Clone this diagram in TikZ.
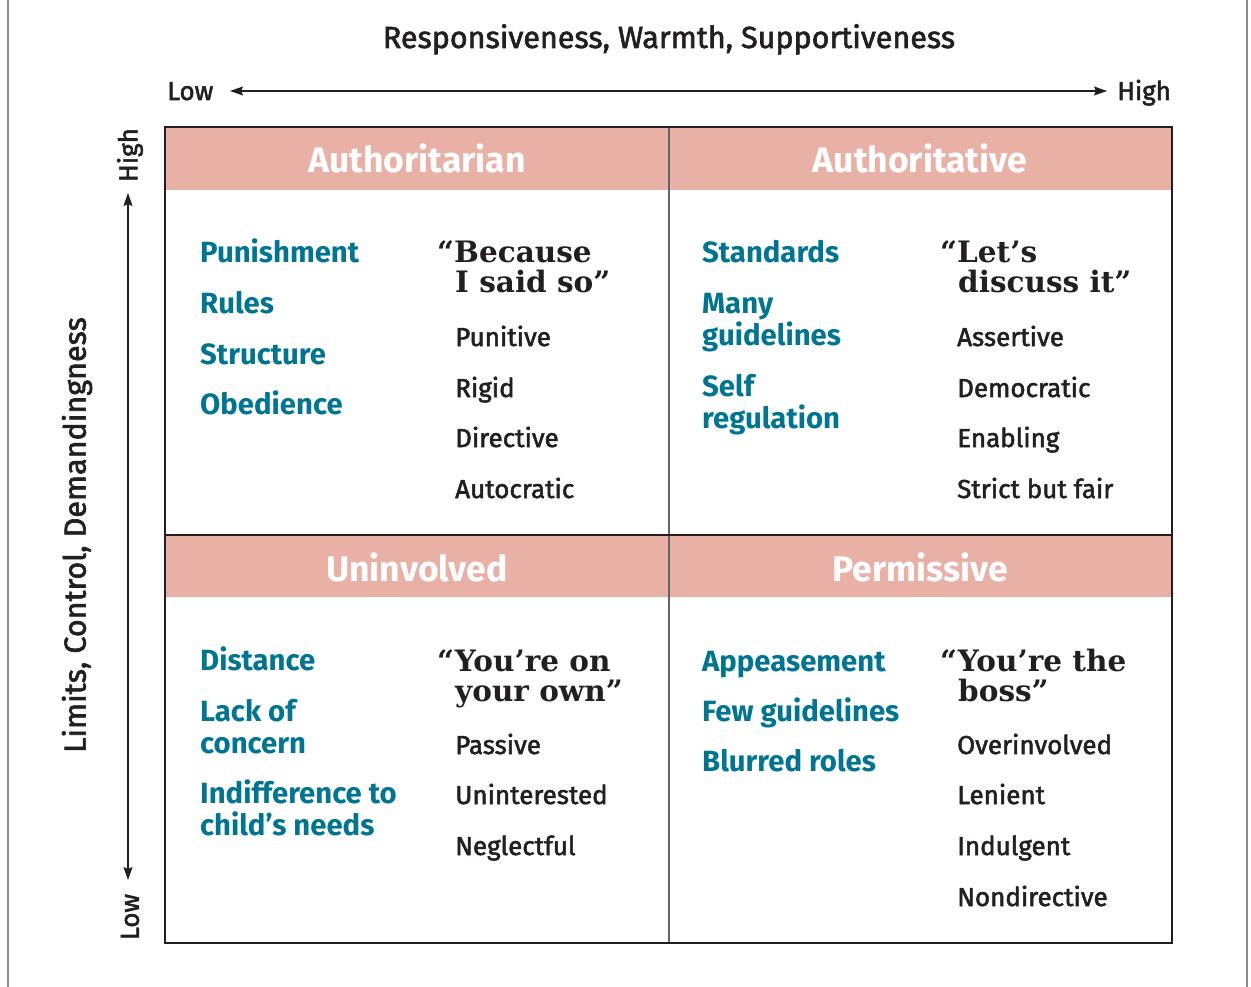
\documentclass[tikz,border=0pt]{standalone}
\usepackage{fontspec}
\setmainfont{Fira Sans}
\newfontfamily\semifont{Fira Sans}[FakeBold=2]
\newfontfamily\qfont{DejaVu Serif}
\usetikzlibrary{arrows.meta}
\definecolor{ateal}{RGB}{0,117,146}
\definecolor{apink}{RGB}{233,177,166}
\definecolor{ink}{RGB}{35,31,32}
\definecolor{edge}{RGB}{140,140,140}
\begin{document}
\begin{tikzpicture}[x=1pt,y=-1pt,
  cat/.style={anchor=base west,inner sep=0,text=ateal,font=\fontsize{29.3}{32}\selectfont\bfseries},
  trait/.style={anchor=base west,inner sep=0,text=ink,font=\fontsize{26}{32}\selectfont\semifont},
  quote/.style={anchor=base west,inner sep=0,text=ink,font=\fontsize{29.5}{32}\selectfont\qfont\bfseries},
  head/.style={anchor=base,inner sep=0,text=white,font=\fontsize{35.5}{40}\selectfont\bfseries},
  axislab/.style={inner sep=0,text=ink,font=\fontsize{26}{30}\selectfont\semifont},
  axisarrow/.style={ink,line width=1.3pt,{Stealth[length=13pt,width=9pt,inset=2pt]}-{Stealth[length=13pt,width=9pt,inset=2pt]}},
]
\useasboundingbox (0,0) rectangle (1251,987);
\fill[white] (0,0) rectangle (1251,987);
\draw[edge,line width=2pt] (8,0) -- (8,987);
\draw[edge,line width=2pt] (1247,0) -- (1247,987);

% title and axes
\node[anchor=base,inner sep=0,text=ink,font=\fontsize{30.5}{34}\selectfont\semifont] (title) at (669,48) {Responsiveness, Warmth, Supportiveness};
\node[axislab,anchor=base west] (lowx) at (167,100) {Low};
\node[axislab,anchor=base west] (highx) at (1117,100) {High};
\coordinate (hL) at (230,91);
\coordinate (hR) at (1107,91);
\draw[axisarrow] (hL) -- (hR);

\node[axislab,rotate=90] (highy) at (130,155) {High};
\node[axislab,rotate=90] (lowy) at (130,917) {Low};
\coordinate (vT) at (128,193);
\coordinate (vB) at (128,880);
\draw[axisarrow] (vT) -- (vB);
\node[inner sep=0,text=ink,font=\fontsize{30.5}{34}\selectfont\semifont,rotate=90] (ylab) at (77,535) {Limits, Control, Demandingness};

% grid
\fill[apink] (166,128) rectangle (1171,190);
\fill[apink] (166,536) rectangle (1171,597);
\draw[ink!70,line width=1.4pt] (669,127) -- (669,943);
\draw[ink,line width=2pt] (165,534.5) -- (1172,534.5);
\draw[ink,line width=2.5pt] (165,127) rectangle (1172,943);

% headers
\node[head] (h1) at (417,173) {Authoritarian};
\node[head] (h2) at (920,173) {Authoritative};
\node[head] (h3) at (417,581) {Uninvolved};
\node[head] (h4) at (920,581) {Permissive};

% Authoritarian
\node[cat] (a1) at (200,262) {Punishment};
\node[cat] (a2) at (200,313) {Rules};
\node[cat] (a3) at (200,364) {Structure};
\node[cat] (a4) at (200,414) {Obedience};
\node[quote] (aq1) at (437,263) {“Because};
\node[quote] (aq2) at (455,293) {I said so”};
\node[trait] (at1) at (455,346) {Punitive};
\node[trait] (at2) at (455,397) {Rigid};
\node[trait] (at3) at (455,447) {Directive};
\node[trait] (at4) at (455,498) {Autocratic};

% Authoritative
\node[cat] (b1) at (702,262) {Standards};
\node[cat] (b2) at (702,313) {Many};
\node[cat] (b3) at (702,345) {guidelines};
\node[cat] (b4) at (702,396) {Self};
\node[cat] (b5) at (702,428) {regulation};
\node[quote] (bq1) at (940,263) {“Let’s};
\node[quote] (bq2) at (958,293) {discuss it”};
\node[trait] (bt1) at (957,346) {Assertive};
\node[trait] (bt2) at (957,397) {Democratic};
\node[trait] (bt3) at (957,447) {Enabling};
\node[trait] (bt4) at (957,498) {Strict but fair};

% Uninvolved
\node[cat] (c1) at (200,670) {Distance};
\node[cat] (c2) at (200,721) {Lack of};
\node[cat] (c3) at (200,753) {concern};
\node[cat] (c4) at (200,803) {Indifference to};
\node[cat] (c5) at (200,835) {child’s needs};
\node[quote] (cq1) at (437,671) {“You’re on};
\node[quote] (cq2) at (455,701) {your own”};
\node[trait] (ct1) at (455,754) {Passive};
\node[trait] (ct2) at (455,804) {Uninterested};
\node[trait] (ct3) at (455,855) {Neglectful};

% Permissive
\node[cat] (d1) at (702,671) {Appeasement};
\node[cat] (d2) at (702,721) {Few guidelines};
\node[cat] (d3) at (702,771) {Blurred roles};
\node[quote] (dq1) at (940,671) {“You’re the};
\node[quote] (dq2) at (958,701) {boss”};
\node[trait] (dt1) at (957,754) {Overinvolved};
\node[trait] (dt2) at (957,804) {Lenient};
\node[trait] (dt3) at (957,855) {Indulgent};
\node[trait] (dt4) at (957,906) {Nondirective};
\end{tikzpicture}
\end{document}
